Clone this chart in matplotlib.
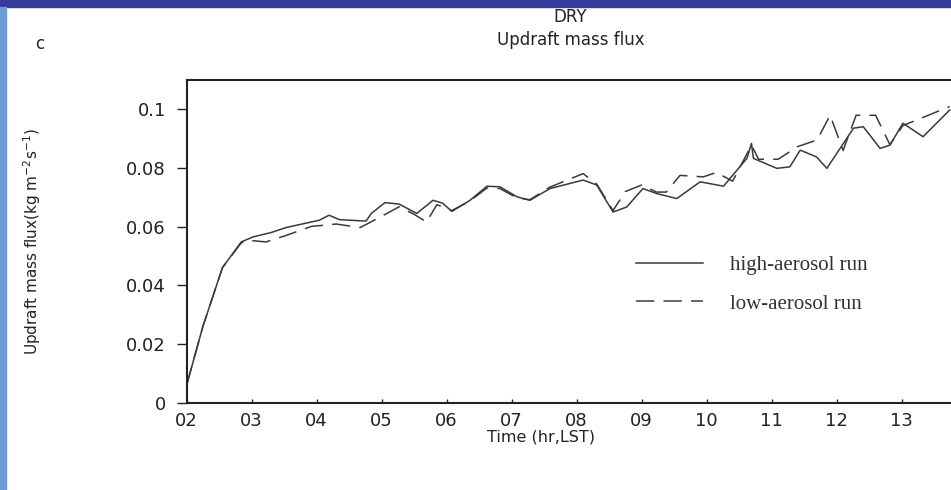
import matplotlib
matplotlib.use('Agg')
import matplotlib.pyplot as plt
from matplotlib.patches import Rectangle

# high-aerosol run (solid)
t_high = [2.0, 2.25, 2.55, 2.84, 3.02, 3.3, 3.53, 4.04, 4.19, 4.35, 4.76, 4.84,
          5.05, 5.27, 5.54, 5.79, 5.94, 6.08, 6.36, 6.62, 6.82, 7.08, 7.28, 7.59,
          8.1, 8.31, 8.56, 8.77, 9.02, 9.23, 9.54, 9.9, 10.26, 10.62, 10.69, 10.72,
          11.08, 11.28, 11.44, 11.69, 11.85, 12.26, 12.41, 12.67, 12.82, 13.02,
          13.33, 13.74]
flux_high = [0.006, 0.026, 0.046, 0.0548, 0.0565, 0.058, 0.0597, 0.0622, 0.0639,
             0.0624, 0.0619, 0.0645, 0.0682, 0.0677, 0.0645, 0.069, 0.068, 0.0652,
             0.069, 0.0738, 0.0736, 0.0702, 0.069, 0.073, 0.0759, 0.0742, 0.065,
             0.0667, 0.073, 0.0713, 0.0696, 0.0753, 0.0738, 0.0833, 0.0884, 0.0833,
             0.0799, 0.0804, 0.0861, 0.0838, 0.0799, 0.0936, 0.0941, 0.0867, 0.0878,
             0.0953, 0.0907, 0.0998]

# low-aerosol run (dashed)
t_low = [2.0, 2.25, 2.55, 2.84, 3.02, 3.22, 3.53, 3.92, 4.3, 4.67, 5.03, 5.27,
         5.5, 5.69, 5.85, 6.08, 6.36, 6.62, 6.82, 7.08, 7.28, 7.59, 8.1, 8.31,
         8.56, 8.75, 9.0, 9.23, 9.38, 9.59, 9.95, 10.15, 10.4, 10.69, 10.8, 11.1,
         11.4, 11.7, 11.9, 12.1, 12.3, 12.6, 12.82, 13.02, 13.3, 13.74]
flux_low = [0.006, 0.026, 0.046, 0.0545, 0.0552, 0.0548, 0.057, 0.0601, 0.0609,
            0.0597, 0.0639, 0.0668, 0.0642, 0.0616, 0.0675, 0.0655, 0.0688, 0.0732,
            0.073, 0.0698, 0.0692, 0.0735, 0.0781, 0.0745, 0.0655, 0.072, 0.0742,
            0.0718, 0.0718, 0.0775, 0.077, 0.0785, 0.0755, 0.0878, 0.083, 0.083,
            0.0873, 0.0896, 0.098, 0.086, 0.098, 0.098, 0.088, 0.0945, 0.097, 0.101]

hours = [2, 3, 4, 5, 6, 7, 8, 9, 10, 11, 12, 13]
hour_labels = ['02', '03', '04', '05', '06', '07', '08', '09', '10', '11', '12', '13']
yticks = [0, 0.02, 0.04, 0.06, 0.08, 0.1]
ytick_labels = ['0', '0.02', '0.04', '0.06', '0.08', '0.1']

fig = plt.figure(figsize=(9.51, 4.90), dpi=100)
fig.patch.set_facecolor('white')

# blue slide frame
fig.patches.append(Rectangle((0, 1 - 7 / 490), 1, 7 / 490, transform=fig.transFigure,
                             color='#363a98', zorder=0))
fig.patches.append(Rectangle((0, 0), 6 / 951, 1 - 7 / 490, transform=fig.transFigure,
                             color='#6d9bd6', zorder=0))

ax = fig.add_axes([0.1963, 0.1785, 0.8037, 0.658])
line_col = '#3a3a3a'
ax.plot(t_high, flux_high, color=line_col, lw=1.1, label='high-aerosol run')
ax.plot(t_low, flux_low, color=line_col, lw=1.1, dashes=(12, 6), label='low-aerosol run')

ax.set_xlim(2, 13.76)
ax.set_ylim(0, 0.11)
ax.set_xticks(hours)
ax.set_xticklabels(hour_labels)
ax.set_yticks(yticks)
ax.set_yticklabels(ytick_labels)
ax.tick_params(axis='x', direction='in', length=3, width=1, pad=7, labelsize=13, colors='#222222')
ax.tick_params(axis='y', direction='out', length=7, width=1, pad=8, labelsize=13, colors='#222222')
ax.spines['right'].set_visible(False)
for s in ['left', 'bottom', 'top']:
    ax.spines[s].set_linewidth(1.5)
    ax.spines[s].set_color('#222222')

ax.set_xlabel('Time (hr,LST)', fontsize=11.5, color='#222222')
ax.xaxis.set_label_coords(0.4636, -0.085)
ax.set_ylabel('Updraft mass flux(kg m$^{-2}$s$^{-1}$)', fontsize=11, color='#222222')
ax.yaxis.set_label_coords(-0.188, 0.5)

leg = ax.legend(loc='upper left', bbox_to_anchor=(0.588, 0.455), frameon=False,
                borderaxespad=0, borderpad=0,
                handlelength=3.2, handletextpad=1.3, labelspacing=0.9,
                prop={'family': ['Liberation Serif', 'DejaVu Serif'], 'size': 15})
for txt in leg.get_texts():
    txt.set_color('#333333')

fig.text(0.6, 1 - 17 / 490, 'DRY', ha='center', va='center', fontsize=12, color='#222222')
fig.text(0.6, 1 - 40 / 490, 'Updraft mass flux', ha='center', va='center', fontsize=12,
         color='#222222')
fig.text(0.042, 1 - 44 / 490, 'c', ha='center', va='center', fontsize=12, color='#222222')

fig.savefig('out.png', dpi=100)
